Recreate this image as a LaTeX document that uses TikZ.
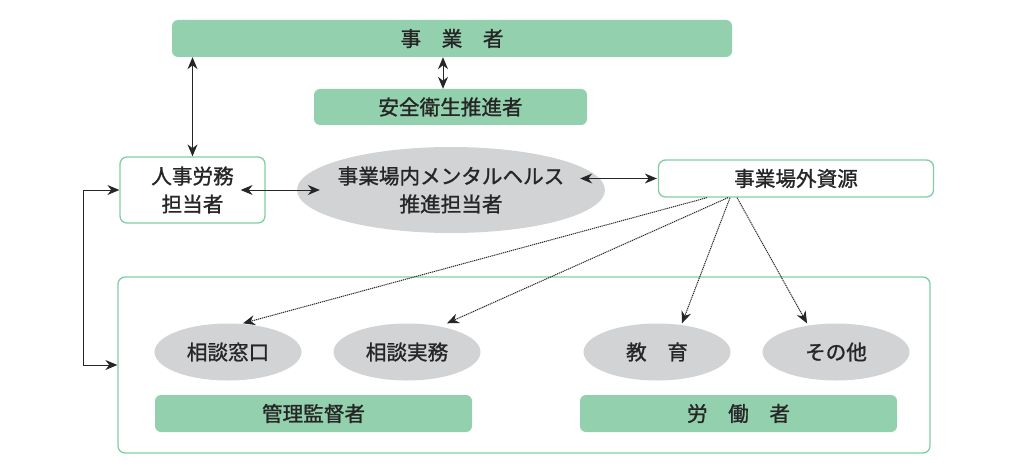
\documentclass[tikz,border=0pt]{standalone}
\usepackage{fontspec}
\setmainfont{Noto Sans CJK JP}[FakeBold=1.2]
\usetikzlibrary{arrows.meta,shapes.geometric}
\definecolor{mint}{HTML}{93D1AE}
\definecolor{mintline}{HTML}{80CFA4}
\definecolor{ovalgray}{HTML}{D2D3D5}
\definecolor{ink}{HTML}{262626}
\tikzset{
 label/.style={text=ink,font=\fontsize{20.6}{28}\selectfont,align=center,inner sep=0},
 greenbar/.style={label,rectangle,rounded corners=6pt,fill=mint},
 framebox/.style={label,rectangle,rounded corners=7pt,draw=mintline,line width=1.3pt,fill=white},
 bubble/.style={label,ellipse,fill=ovalgray},
 link/.style={draw=ink,line width=1pt,{Stealth[length=12pt,width=10pt]}-{Stealth[length=12pt,width=10pt]}},
 dotlink/.style={draw=ink,line width=1pt,dash pattern=on 1.2pt off .8pt,-{Stealth[length=12pt,width=10pt]}}
}
\begin{document}
\begin{tikzpicture}[x=1pt,y=-1pt]
\path[use as bounding box] (0,0) rectangle (1024,465);
% outer frame
\node[framebox,minimum width=812pt,minimum height=176pt] (group) at (524,365) {};
% upper part
\node[greenbar,minimum width=560pt,minimum height=37pt] (boss) at (452,38.5) {事　業　者};
\node[greenbar,minimum width=273pt,minimum height=36pt] (promoter) at (450.5,107) {安全衛生推進者};
\node[framebox,minimum width=145pt,minimum height=66pt] (staff) at (192.5,190) {人事労務\\担当者};
\node[bubble,inner xsep=-6pt,minimum width=308pt,minimum height=86pt] (inner) at (451,190) {事業場内メンタルヘルス\\推進担当者};
\node[framebox,minimum width=275pt,minimum height=37pt] (outer) at (796,178.5) {事業場外資源};
% lower part
\node[bubble,minimum width=147pt,minimum height=57pt] (desk) at (228,352) {相談窓口};
\node[bubble,minimum width=147pt,minimum height=57pt] (consult) at (407,352) {相談実務};
\node[bubble,minimum width=147pt,minimum height=57pt] (edu) at (657,352) {教　育};
\node[bubble,minimum width=147pt,minimum height=57pt] (other) at (836,352) {その他};
\node[greenbar,minimum width=317pt,minimum height=37pt] (manager) at (313.5,413.5) {管理監督者};
\node[greenbar,minimum width=317pt,minimum height=37pt] (worker) at (738.5,413.5) {労　働　者};
% connectors
\draw[link] (staff.north) -- (staff.north |- boss.south);
\draw[link] ([xshift=-7.5pt]promoter.north) -- ([xshift=-7.5pt]promoter.north |- boss.south);
\draw[link] ([xshift=-25pt]staff.east) -- ([xshift=23pt]inner.west);
\draw[link] ([xshift=-25pt]outer.west -| inner.east) -- ([xshift=-1pt]outer.west);
\draw[link] (staff.west) -- ++(-36,0) |- (group.west);
\draw[dotlink] ([xshift=-89pt]outer.south) -- ([xshift=15pt]desk.north);
\draw[dotlink] ([xshift=-68pt]outer.south) -- ([xshift=40pt]consult.north);
\draw[dotlink] ([xshift=-66pt]outer.south) -- ([xshift=25pt]edu.north);
\draw[dotlink] ([xshift=-59pt]outer.south) -- ([xshift=-29pt]other.north);
\end{tikzpicture}
\end{document}
